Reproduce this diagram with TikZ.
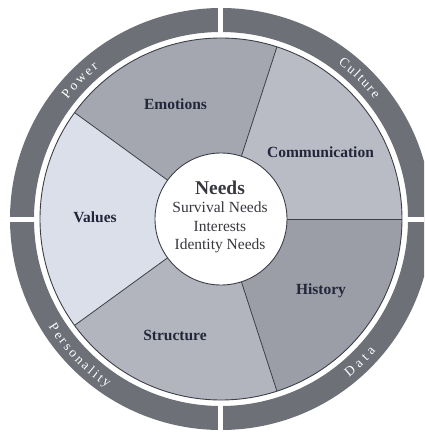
\documentclass[tikz,border=0pt]{standalone}
\usepackage{fontspec}
\setmainfont{Liberation Serif}
\usetikzlibrary{decorations.text}
\definecolor{ringcol}{HTML}{6E7077}
\definecolor{emocol}{HTML}{A4A7AF}
\definecolor{comcol}{HTML}{B9BCC4}
\definecolor{valcol}{HTML}{DADFE9}
\definecolor{strcol}{HTML}{B2B5BE}
\definecolor{hiscol}{HTML}{9B9EA7}
\definecolor{linecol}{HTML}{3D3F47}
\definecolor{labcol}{HTML}{23263A}
\definecolor{needcol}{HTML}{38393F}
\tikzset{
  seclabel/.style={anchor=base, inner sep=0pt, text=labcol, font=\fontsize{15.5}{18}\selectfont\bfseries},
  needlabel/.style={anchor=base, inner sep=0pt, text=needcol, font=\fontsize{15.5}{18}\selectfont},
  sectorline/.style={draw=linecol, line width=0.8pt},
  ringtext/.style={decorate, decoration={text along path, text align=fit to path,
      text={|\fontsize{13.5}{13.5}\selectfont\color{white}|#1}}}
}
\begin{document}
\begin{tikzpicture}[x=1pt,y=1pt]
\useasboundingbox (-221,-215) rectangle (203,219);
\clip (-221,-215) rectangle (203,219);
% outer ring
\fill[ringcol, even odd rule] (0,0) circle[radius=211] (0,0) circle[radius=187];
\foreach \a in {0,90,180,270}
  \draw[white, line width=5pt] (\a:185) -- (\a:214);
% sectors
\fill[comcol] (0,0) -- (0:181) arc[start angle=0, end angle=72, radius=181] -- cycle;
\fill[emocol] (0,0) -- (72:181) arc[start angle=72, end angle=144, radius=181] -- cycle;
\fill[valcol] (0,0) -- (144:181) arc[start angle=144, end angle=216, radius=181] -- cycle;
\fill[strcol] (0,0) -- (216:181) arc[start angle=216, end angle=288, radius=181] -- cycle;
\fill[hiscol] (0,0) -- (288:181) arc[start angle=288, end angle=360, radius=181] -- cycle;
\coordinate (c) at (0,0);
\foreach \a in {0,72,144,216,288}
  \draw[sectorline] (\a:66) -- (\a:181);
\draw[linecol, line width=0.9pt] (c) circle[radius=181];
\fill[white] (c) circle[radius=66];
\draw[linecol, line width=0.9pt] (c) circle[radius=66];
% centre text
\node[anchor=base, inner sep=0pt, text=needcol, font=\fontsize{19.5}{22}\selectfont\bfseries] (needs) at (-1,25) {Needs};
\node[needlabel] (survival) at (-1,6.3) {Survival Needs};
\node[needlabel] (interests) at (-1,-12) {Interests};
\node[needlabel] (identity) at (-1,-30) {Identity Needs};
% sector labels
\node[seclabel] (emotions) at (-45.5,109) {Emotions};
\node[seclabel] (communication) at (99.5,62) {Communication};
\node[seclabel] (values) at (-126,-3) {Values};
\node[seclabel] (structure) at (-46,-121) {Structure};
\node[seclabel] (history) at (100,-75) {History};
% ring labels
\path[ringtext=Power] (142:194.5) arc[start angle=142, end angle=129, radius=194.5];
\path[ringtext=Culture] (53:194.5) arc[start angle=53, end angle=38, radius=194.5];
\path[ringtext=Personality] (212:203.5) arc[start angle=212, end angle=236, radius=203.5];
\path[ringtext=Data] (309:203.5) arc[start angle=309, end angle=319.5, radius=203.5];
\end{tikzpicture}
\end{document}
